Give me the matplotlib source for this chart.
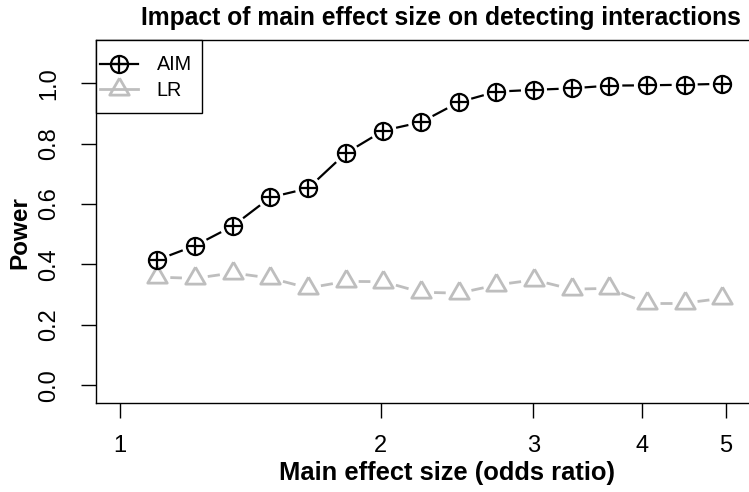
import numpy as np
import matplotlib
matplotlib.use('Agg')
import matplotlib.pyplot as plt
from matplotlib.lines import Line2D
from matplotlib.patches import Rectangle
from matplotlib.legend_handler import HandlerTuple

plt.rcParams['font.family'] = ['Liberation Sans', 'DejaVu Sans']

# data
odds_ratio = [1.105, 1.221, 1.350, 1.492, 1.649, 1.822, 2.014, 2.226,
              2.460, 2.718, 3.004, 3.320, 3.669, 4.055, 4.482, 4.953]
power_aim = [0.415, 0.462, 0.527, 0.622, 0.652, 0.768, 0.843, 0.871,
             0.937, 0.972, 0.978, 0.983, 0.992, 0.993, 0.995, 0.998]
power_lr = [0.358, 0.354, 0.372, 0.355, 0.322, 0.344, 0.343, 0.308,
            0.305, 0.332, 0.349, 0.318, 0.321, 0.272, 0.272, 0.288]
x_ticks = [1, 2, 3, 4, 5]
y_ticks = [0.0, 0.2, 0.4, 0.6, 0.8, 1.0]
y_tick_labels = ['0.0', '0.2', '0.4', '0.6', '0.8', '1.0']

W, H = 749, 492
GRAY = '#BEBEBE'

fig = plt.figure(figsize=(W / 100, H / 100), dpi=100)
ax = fig.add_axes([96 / W, 1 - 403 / H, (792 - 96) / W, (403 - 40) / H])
ax.set_xscale('log')
ax.set_xlim(0.939, 5.96)
ax.set_ylim(-0.0586, 1.143)

tri = [(0, 1), (-0.866, -0.5), (0.866, -0.5), (0, 1)]


def gapped_lines(x, y, color, lw, gap_px=13):
    # R type="b": segments between points, with a gap around each point
    pts = ax.transData.transform(np.column_stack([x, y]))
    inv = ax.transData.inverted()
    for p0, p1 in zip(pts[:-1], pts[1:]):
        d = p1 - p0
        L = np.hypot(*d)
        if L <= 2 * gap_px:
            continue
        u = d / L
        seg = inv.transform(np.array([p0 + u * gap_px, p1 - u * gap_px]))
        ax.plot(seg[:, 0], seg[:, 1], color=color, lw=lw, solid_capstyle='butt')


gapped_lines(odds_ratio, power_lr, GRAY, 2.0)
ax.plot(odds_ratio, power_lr, ls='none', marker=tri, ms=16.2, mfc='none',
        mec=GRAY, mew=2.0)

gapped_lines(odds_ratio, power_aim, 'black', 1.6)
ax.plot(odds_ratio, power_aim, ls='none', marker='o', ms=12.3, mfc='none',
        mec='black', mew=1.6)
ax.plot(odds_ratio, power_aim, ls='none', marker='+', ms=12.3,
        mec='black', mew=1.6)

ax.set_xticks(x_ticks)
ax.set_xticklabels([str(v) for v in x_ticks])
ax.xaxis.set_minor_locator(matplotlib.ticker.NullLocator())
ax.set_yticks(y_ticks)
ax.set_yticklabels(y_tick_labels, rotation=90, va='center')

for s in ['top', 'bottom', 'left', 'right']:
    ax.spines[s].set_linewidth(1.0)
ax.tick_params(axis='both', length=10.5, width=1.0)
ax.tick_params(axis='x', pad=12.5, labelsize=17.0)
ax.tick_params(axis='y', pad=15.5, labelsize=17.0)

# legend: R-style box drawn as a rectangle, entries without frame
LEG_FS = 14.2
fs_px = LEG_FS * 100 / 72
ax.add_patch(Rectangle((96 / W, 1 - 113 / H), (202 - 96) / W, (113 - 40) / H,
                       transform=fig.transFigure, facecolor='white',
                       edgecolor='black', lw=1.0, zorder=4, clip_on=False))
h_aim = (Line2D([], [], color='black', lw=1.6, marker='o', ms=12.3,
                mfc='none', mec='black', mew=1.6),
         Line2D([], [], ls='none', marker='+', ms=12.3, mec='black', mew=1.6))
h_lr = Line2D([], [], color=GRAY, lw=2.0, marker=tri, ms=16.2, mfc='none',
              mec=GRAY, mew=2.0)
leg = ax.legend([h_aim, h_lr], ['AIM', 'LR'],
                handler_map={tuple: HandlerTuple(ndivide=1, pad=0)},
                loc='upper left', bbox_to_anchor=(100 / W, 1 - 55.5 / H),
                bbox_transform=fig.transFigure, borderaxespad=0, borderpad=0,
                fontsize=LEG_FS, frameon=False, labelspacing=0.33,
                handlelength=38 / fs_px, handletextpad=18.5 / fs_px)
leg.set_zorder(5)

fig.text(441 / W, 1 - 25 / H, 'Impact of main effect size on detecting interactions',
         ha='center', va='baseline', fontsize=17.7, fontweight='bold')
fig.text(447.5 / W, 1 - 480 / H, 'Main effect size (odds ratio)',
         ha='center', va='baseline', fontsize=18.4, fontweight='bold')
fig.text(26.5 / W, 1 - 233 / H, 'Power', rotation=90, rotation_mode='anchor',
         ha='center', va='baseline', fontsize=17.5, fontweight='bold')

fig.savefig('out.png', dpi=100)
